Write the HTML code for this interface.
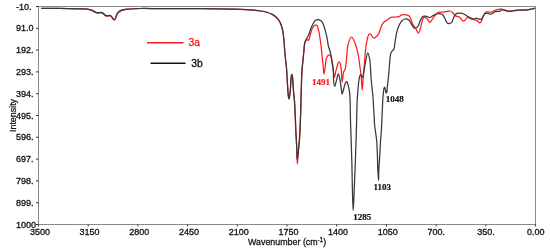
<!DOCTYPE html>
<html><head><meta charset="utf-8"><title>IR spectrum</title>
<style>
html,body{margin:0;padding:0;background:#fff;}
body{width:550px;height:250px;overflow:hidden;}
svg{display:block;}
.tl{font-family:"Liberation Sans",Arial,sans-serif;font-size:9px;fill:#141414;stroke:#141414;stroke-width:0.32px;}
.ax{font-family:"Liberation Sans",Arial,sans-serif;font-size:8.9px;fill:#141414;stroke:#141414;stroke-width:0.28px;}
.lg{font-family:"Liberation Sans",Arial,sans-serif;font-size:10.4px;stroke-width:0.3px;}
.an{font-family:"Liberation Serif","Times New Roman",serif;font-size:9px;font-weight:bold;stroke-width:0.2px;}
</style></head><body>
<svg width="550" height="250" viewBox="0 0 550 250">
<rect width="550" height="250" fill="#fff"/>
<rect x="38.50" y="6.50" width="497.00" height="218.00" fill="none" stroke="#8a8a8a" stroke-width="1"/>
<line x1="36" y1="6.50" x2="38.50" y2="6.50" stroke="#333" stroke-width="1"/>
<text x="16" y="9.50" class="tl">-10.</text>
<line x1="36" y1="28.30" x2="38.50" y2="28.30" stroke="#333" stroke-width="1"/>
<text x="16" y="31.30" class="tl">91.0</text>
<line x1="36" y1="50.10" x2="38.50" y2="50.10" stroke="#333" stroke-width="1"/>
<text x="16" y="53.10" class="tl">192.</text>
<line x1="36" y1="71.90" x2="38.50" y2="71.90" stroke="#333" stroke-width="1"/>
<text x="16" y="74.90" class="tl">293.</text>
<line x1="36" y1="93.70" x2="38.50" y2="93.70" stroke="#333" stroke-width="1"/>
<text x="16" y="96.70" class="tl">394.</text>
<line x1="36" y1="115.50" x2="38.50" y2="115.50" stroke="#333" stroke-width="1"/>
<text x="16" y="118.50" class="tl">495.</text>
<line x1="36" y1="137.30" x2="38.50" y2="137.30" stroke="#333" stroke-width="1"/>
<text x="16" y="140.30" class="tl">596.</text>
<line x1="36" y1="159.10" x2="38.50" y2="159.10" stroke="#333" stroke-width="1"/>
<text x="16" y="162.10" class="tl">697.</text>
<line x1="36" y1="180.90" x2="38.50" y2="180.90" stroke="#333" stroke-width="1"/>
<text x="16" y="183.90" class="tl">798.</text>
<line x1="36" y1="202.70" x2="38.50" y2="202.70" stroke="#333" stroke-width="1"/>
<text x="16" y="205.70" class="tl">899.</text>
<line x1="36" y1="224.50" x2="38.50" y2="224.50" stroke="#333" stroke-width="1"/>
<text x="16" y="227.50" class="tl">1000</text>
<line x1="38.50" y1="224.50" x2="38.50" y2="226.5" stroke="#333" stroke-width="1"/>
<text x="29.90" y="234.5" class="tl">3500</text>
<line x1="88.20" y1="224.50" x2="88.20" y2="226.5" stroke="#333" stroke-width="1"/>
<text x="79.60" y="234.5" class="tl">3150</text>
<line x1="137.90" y1="224.50" x2="137.90" y2="226.5" stroke="#333" stroke-width="1"/>
<text x="129.30" y="234.5" class="tl">2800</text>
<line x1="187.60" y1="224.50" x2="187.60" y2="226.5" stroke="#333" stroke-width="1"/>
<text x="179.00" y="234.5" class="tl">2450</text>
<line x1="237.30" y1="224.50" x2="237.30" y2="226.5" stroke="#333" stroke-width="1"/>
<text x="228.70" y="234.5" class="tl">2100</text>
<line x1="287.00" y1="224.50" x2="287.00" y2="226.5" stroke="#333" stroke-width="1"/>
<text x="278.40" y="234.5" class="tl">1750</text>
<line x1="336.70" y1="224.50" x2="336.70" y2="226.5" stroke="#333" stroke-width="1"/>
<text x="328.10" y="234.5" class="tl">1400</text>
<line x1="386.40" y1="224.50" x2="386.40" y2="226.5" stroke="#333" stroke-width="1"/>
<text x="377.80" y="234.5" class="tl">1050</text>
<line x1="436.10" y1="224.50" x2="436.10" y2="226.5" stroke="#333" stroke-width="1"/>
<text x="427.50" y="234.5" class="tl">700.</text>
<line x1="485.80" y1="224.50" x2="485.80" y2="226.5" stroke="#333" stroke-width="1"/>
<text x="477.20" y="234.5" class="tl">350.</text>
<line x1="535.50" y1="224.50" x2="535.50" y2="226.5" stroke="#333" stroke-width="1"/>
<text x="526.90" y="234.5" class="tl">0.00</text>
<path d="M41.30,8.30 C44.42,8.32 53.66,8.32 60.00,8.40 C66.55,8.48 74.92,8.65 80.00,8.80 C83.14,8.89 85.44,8.69 87.60,9.10 C89.29,9.42 90.47,10.03 92.00,10.65 C93.72,11.35 95.65,12.83 97.40,13.15 C98.91,13.43 100.40,12.45 101.80,12.85 C103.35,13.30 104.66,15.55 106.20,16.05 C107.57,16.50 109.21,15.50 110.50,16.05 C111.98,16.69 113.27,20.33 114.40,20.15 C115.70,19.94 116.23,14.99 117.60,13.35 C118.68,12.06 119.88,11.34 121.40,10.65 C123.23,9.82 125.45,9.46 128.00,9.10 C131.39,8.62 135.49,8.60 140.00,8.50 C145.82,8.37 152.19,8.57 160.00,8.60 C171.05,8.64 187.62,8.60 200.00,8.70 C210.72,8.78 220.56,8.84 230.00,9.10 C238.45,9.33 247.39,9.44 254.00,10.10 C258.70,10.57 262.55,11.05 266.00,12.00 C268.75,12.76 271.14,13.62 273.20,14.90 C275.08,16.07 276.71,17.62 278.00,19.20 C279.20,20.67 280.03,22.18 280.80,24.00 C281.69,26.11 282.28,28.61 282.80,31.20 C283.39,34.15 283.68,37.60 284.00,40.80 C284.32,44.00 284.43,47.20 284.70,50.40 C284.97,53.60 285.29,56.95 285.60,60.00 C285.89,62.79 286.25,65.09 286.50,68.00 C286.80,71.48 286.97,75.67 287.20,79.50 C287.43,83.33 287.62,87.71 287.90,91.00 C288.11,93.48 288.30,96.10 288.60,97.50 C288.75,98.19 288.93,99.01 289.10,99.00 C289.44,98.97 289.83,94.91 290.10,92.50 C290.43,89.51 290.54,85.48 290.80,82.40 C291.02,79.80 291.08,76.32 291.50,75.20 C291.64,74.81 291.85,74.46 292.00,74.50 C292.38,74.59 292.58,77.89 292.80,80.00 C293.09,82.83 293.13,86.67 293.40,90.00 C293.67,93.34 294.12,96.33 294.40,100.00 C294.74,104.49 294.97,110.00 295.20,115.00 C295.43,120.00 295.55,124.71 295.80,130.00 C296.08,135.96 296.52,143.02 296.80,149.00 C297.05,154.35 297.10,164.19 297.40,164.20 C297.70,164.21 298.23,153.41 298.60,149.00 C298.88,145.61 299.17,143.08 299.40,140.00 C299.64,136.76 299.82,133.67 300.00,130.00 C300.22,125.51 300.43,120.00 300.60,115.00 C300.77,110.00 300.87,105.00 301.00,100.00 C301.13,95.00 301.23,90.00 301.40,85.00 C301.57,80.00 301.71,74.22 302.00,70.00 C302.22,66.91 302.52,64.82 302.80,62.00 C303.11,58.85 303.43,55.33 303.80,52.00 C304.17,48.66 303.97,44.12 305.00,42.00 C305.61,40.74 306.85,39.50 307.50,39.50 C307.91,39.50 308.19,40.57 308.50,40.50 C309.07,40.37 309.48,37.67 310.00,36.00 C310.64,33.93 311.10,30.87 312.00,29.00 C312.69,27.56 313.59,26.12 314.50,25.50 C315.13,25.07 315.95,24.75 316.50,25.00 C317.20,25.32 317.56,26.76 318.00,28.00 C318.64,29.82 319.08,32.66 319.50,35.00 C319.91,37.33 320.18,39.59 320.50,42.00 C320.85,44.58 321.18,47.21 321.50,50.00 C321.85,53.05 322.19,56.51 322.50,59.60 C322.79,62.49 323.03,65.44 323.30,68.00 C323.53,70.17 323.71,73.99 324.00,74.00 C324.26,74.01 324.59,71.11 324.90,69.20 C325.35,66.38 325.44,61.18 326.30,58.70 C326.82,57.19 327.58,55.90 328.30,55.30 C328.74,54.93 329.29,54.65 329.70,54.80 C330.27,55.01 330.69,56.14 331.10,57.20 C331.76,58.92 332.20,61.96 332.60,64.40 C333.01,66.89 333.15,69.70 333.50,72.00 C333.80,73.93 334.15,77.30 334.50,77.30 C334.85,77.30 335.24,73.48 335.60,72.00 C335.87,70.91 336.10,70.30 336.40,69.20 C336.83,67.64 337.37,64.76 337.90,63.50 C338.19,62.81 338.43,62.05 338.80,62.00 C339.21,61.95 339.92,62.75 340.30,63.50 C340.93,64.73 340.93,66.91 341.20,69.20 C341.60,72.63 341.76,82.09 342.20,82.10 C342.59,82.11 342.86,74.28 343.60,72.00 C344.01,70.73 344.68,70.46 345.10,69.20 C345.83,67.00 346.06,63.14 346.50,59.60 C347.04,55.25 346.95,49.07 348.00,45.00 C348.81,41.86 350.16,37.09 351.40,37.00 C352.51,36.92 353.95,40.49 355.00,43.00 C356.51,46.61 357.72,52.49 358.60,57.00 C359.40,61.13 359.73,65.69 360.20,69.00 C360.53,71.34 360.83,72.54 361.10,75.00 C361.53,78.87 361.86,90.00 362.20,90.00 C362.45,90.00 362.70,84.58 362.90,82.00 C363.09,79.59 363.20,77.54 363.40,75.00 C363.65,71.96 363.94,68.90 364.30,65.00 C364.81,59.48 365.25,50.56 366.20,45.00 C366.90,40.94 367.54,35.96 368.80,34.60 C369.33,34.03 370.07,33.80 370.60,34.00 C371.32,34.27 371.71,36.28 372.40,37.00 C372.94,37.57 373.54,38.23 374.20,38.20 C375.09,38.16 376.42,36.59 377.20,35.80 C377.80,35.19 378.12,34.87 378.60,34.00 C379.55,32.27 380.51,27.77 381.60,25.60 C382.36,24.09 383.04,22.92 384.00,22.00 C384.87,21.17 385.98,20.90 387.00,20.20 C388.17,19.40 389.22,17.94 390.60,17.40 C392.01,16.85 393.92,17.14 395.40,17.00 C396.69,16.87 397.89,16.97 399.00,16.60 C400.09,16.23 400.87,15.11 402.00,14.80 C403.24,14.46 404.94,14.56 406.20,14.80 C407.31,15.01 408.42,15.28 409.20,16.00 C410.07,16.80 410.43,18.30 411.00,19.60 C411.64,21.07 411.99,22.87 412.80,24.40 C413.64,26.00 415.04,27.48 416.00,29.00 C416.89,30.41 417.69,33.24 418.40,33.20 C419.09,33.16 419.66,30.61 420.20,29.00 C420.89,26.95 421.31,23.85 422.00,21.80 C422.54,20.19 422.98,18.14 423.80,17.60 C424.31,17.26 425.01,17.35 425.60,17.60 C426.41,17.94 427.28,19.17 428.00,20.00 C428.67,20.78 429.15,22.39 429.80,22.40 C430.54,22.41 431.37,20.50 432.20,19.40 C433.16,18.13 434.07,16.42 435.20,15.20 C436.28,14.04 437.51,12.67 438.80,12.20 C439.93,11.79 441.20,12.30 442.40,12.20 C443.60,12.10 444.78,11.80 446.00,11.60 C447.25,11.40 448.70,10.83 449.80,11.00 C450.72,11.14 451.46,11.60 452.20,12.20 C453.09,12.92 453.71,14.48 454.60,15.20 C455.34,15.80 456.18,16.10 457.00,16.40 C457.78,16.69 458.67,16.53 459.40,17.00 C460.31,17.58 461.00,19.27 461.80,20.00 C462.40,20.55 462.96,21.22 463.60,21.20 C464.35,21.18 465.30,20.10 466.00,19.40 C466.70,18.70 467.05,17.27 467.80,17.00 C468.48,16.76 469.34,17.28 470.20,17.60 C471.30,18.01 472.64,18.88 473.80,19.40 C474.84,19.87 475.84,20.04 476.80,20.60 C477.85,21.21 478.97,23.11 479.80,23.00 C480.53,22.91 481.06,21.58 481.60,20.60 C482.30,19.31 482.64,17.26 483.40,15.80 C484.12,14.41 484.93,12.57 486.00,12.00 C486.87,11.54 488.00,12.00 489.00,12.00 C490.00,12.00 491.04,12.27 492.00,12.00 C493.04,11.71 493.97,10.64 495.00,10.20 C495.97,9.79 496.95,9.60 498.00,9.40 C499.14,9.19 500.41,8.87 501.60,9.00 C502.81,9.13 503.99,9.87 505.20,10.20 C506.39,10.53 507.59,10.90 508.80,11.00 C509.99,11.10 511.20,10.93 512.40,10.80 C513.60,10.67 514.76,10.33 516.00,10.20 C517.29,10.06 518.48,10.05 520.00,10.00 C522.01,9.94 524.87,10.11 527.00,9.90 C528.81,9.72 530.55,9.30 532.00,9.00 C533.13,8.77 534.50,8.42 535.00,8.30" fill="none" stroke="#ff1a1a" stroke-width="1.25" stroke-linejoin="round"/>
<path d="M41.30,8.30 C44.42,8.32 53.66,8.32 60.00,8.40 C66.55,8.48 74.92,8.65 80.00,8.80 C83.14,8.89 85.42,8.79 87.60,9.10 C89.28,9.34 90.48,9.67 92.00,10.20 C93.74,10.81 95.65,12.38 97.40,12.70 C98.91,12.98 100.40,12.00 101.80,12.40 C103.35,12.85 104.66,15.10 106.20,15.60 C107.57,16.05 109.21,15.05 110.50,15.60 C111.98,16.24 113.27,19.88 114.40,19.70 C115.70,19.49 116.23,14.54 117.60,12.90 C118.68,11.61 119.87,10.83 121.40,10.20 C123.23,9.45 125.46,9.37 128.00,9.10 C131.40,8.73 135.49,8.60 140.00,8.50 C145.82,8.37 152.19,8.57 160.00,8.60 C171.05,8.64 187.62,8.60 200.00,8.70 C210.72,8.78 220.56,8.84 230.00,9.10 C238.45,9.33 247.39,9.44 254.00,10.10 C258.70,10.57 262.55,11.05 266.00,12.00 C268.75,12.76 271.14,13.62 273.20,14.90 C275.08,16.07 276.71,17.62 278.00,19.20 C279.20,20.67 280.03,22.18 280.80,24.00 C281.69,26.11 282.28,28.61 282.80,31.20 C283.39,34.15 283.68,37.60 284.00,40.80 C284.32,44.00 284.43,47.20 284.70,50.40 C284.97,53.60 285.29,56.95 285.60,60.00 C285.89,62.79 286.25,65.09 286.50,68.00 C286.80,71.48 286.97,75.67 287.20,79.50 C287.43,83.33 287.62,87.71 287.90,91.00 C288.11,93.48 288.30,96.10 288.60,97.50 C288.75,98.19 288.93,99.01 289.10,99.00 C289.44,98.97 289.83,94.91 290.10,92.50 C290.43,89.51 290.54,85.48 290.80,82.40 C291.02,79.80 291.08,76.32 291.50,75.20 C291.64,74.81 291.85,74.46 292.00,74.50 C292.38,74.59 292.58,77.89 292.80,80.00 C293.09,82.83 293.13,86.67 293.40,90.00 C293.67,93.34 294.12,96.33 294.40,100.00 C294.74,104.49 294.97,110.00 295.20,115.00 C295.43,120.00 295.55,124.71 295.80,130.00 C296.08,135.96 296.55,143.61 296.80,149.00 C296.98,152.98 296.90,159.39 297.20,159.40 C297.50,159.41 298.23,152.35 298.60,149.00 C298.95,145.90 299.17,143.08 299.40,140.00 C299.64,136.76 299.82,133.67 300.00,130.00 C300.22,125.51 300.43,120.00 300.60,115.00 C300.77,110.00 300.87,105.00 301.00,100.00 C301.13,95.00 301.23,90.00 301.40,85.00 C301.57,80.00 301.71,74.22 302.00,70.00 C302.22,66.91 302.52,64.82 302.80,62.00 C303.11,58.85 303.43,55.33 303.80,52.00 C304.17,48.66 304.24,44.53 305.00,42.00 C305.51,40.31 306.33,39.33 307.00,38.00 C307.67,36.67 308.38,35.49 309.00,34.00 C309.74,32.23 310.32,29.64 311.00,28.00 C311.49,26.81 311.91,26.07 312.50,25.00 C313.21,23.71 313.95,21.70 315.00,20.80 C315.86,20.07 317.00,19.60 318.00,19.60 C319.00,19.60 320.14,20.10 321.00,20.80 C321.99,21.60 322.74,22.99 323.40,24.40 C324.20,26.10 324.62,28.30 325.20,30.40 C325.83,32.68 326.46,35.03 327.00,37.60 C327.61,40.51 328.00,44.76 328.60,47.00 C328.95,48.30 329.34,48.82 329.70,50.00 C330.19,51.61 330.71,53.79 331.10,55.80 C331.52,57.94 331.77,60.27 332.10,62.50 C332.43,64.73 332.86,67.15 333.10,69.20 C333.30,70.93 333.43,72.33 333.50,74.00 C333.58,75.82 333.33,77.73 333.50,79.70 C333.69,81.85 334.19,86.37 334.70,86.40 C335.17,86.43 335.83,82.69 336.40,80.70 C337.03,78.54 337.69,73.91 338.30,73.90 C338.82,73.89 339.37,76.81 339.80,78.70 C340.40,81.33 340.76,85.50 341.20,88.30 C341.55,90.48 341.78,94.08 342.20,94.10 C342.59,94.12 343.09,91.03 343.60,89.30 C344.20,87.25 344.81,83.80 345.60,82.60 C345.97,82.03 346.44,81.50 346.80,81.60 C347.45,81.79 347.96,84.79 348.40,86.40 C348.83,87.99 349.15,89.59 349.40,91.20 C349.65,92.79 349.75,93.73 349.90,96.00 C350.25,101.46 350.31,114.08 350.60,124.00 C350.93,135.25 351.49,148.55 351.80,160.00 C352.08,170.45 352.13,180.94 352.40,190.00 C352.62,197.51 352.90,210.60 353.20,210.60 C353.50,210.60 353.87,197.51 354.20,190.00 C354.60,180.94 355.03,170.00 355.40,160.00 C355.77,150.00 356.10,140.00 356.40,130.00 C356.70,120.00 356.81,107.32 357.20,100.00 C357.43,95.77 357.70,93.33 358.00,90.00 C358.30,86.67 358.48,82.82 359.00,80.00 C359.39,77.88 359.81,74.61 360.50,74.50 C361.05,74.41 361.96,77.60 362.50,77.50 C363.23,77.37 363.58,73.13 364.00,71.00 C364.40,68.97 364.54,67.34 365.00,65.00 C365.67,61.64 366.91,52.82 367.80,52.80 C368.49,52.78 369.29,57.06 369.80,60.00 C370.57,64.44 370.64,72.39 371.00,77.00 C371.25,80.16 371.42,82.19 371.70,85.00 C372.01,88.15 372.47,91.13 372.80,95.00 C373.26,100.32 373.68,108.53 374.00,114.00 C374.25,118.16 374.23,121.06 374.60,125.00 C375.03,129.62 376.13,134.99 376.60,140.00 C377.07,144.99 377.20,150.00 377.40,155.00 C377.60,160.00 377.56,165.46 377.80,170.00 C378.00,173.79 378.43,180.40 378.60,180.40 C378.77,180.40 378.64,173.78 378.80,170.00 C379.00,165.45 379.50,160.00 379.80,155.00 C380.10,150.00 380.30,144.49 380.60,140.00 C380.84,136.33 381.13,134.28 381.40,130.00 C381.88,122.35 382.53,103.00 382.90,98.00 C383.01,96.47 383.08,96.18 383.20,95.00 C383.38,93.28 383.52,90.06 383.90,88.70 C384.09,88.01 384.38,87.18 384.60,87.20 C384.89,87.22 385.15,89.05 385.40,90.00 C385.65,90.98 385.75,92.90 386.10,93.00 C386.30,93.06 386.62,92.68 386.80,92.30 C387.17,91.51 387.03,89.68 387.20,88.00 C387.45,85.60 387.90,82.20 388.20,79.30 C388.50,76.40 388.75,73.49 389.00,70.60 C389.25,67.73 389.48,64.53 389.70,62.00 C389.87,59.99 389.90,58.34 390.20,56.60 C390.48,54.94 390.69,53.05 391.40,51.80 C391.99,50.76 393.21,50.54 393.80,49.40 C394.66,47.73 394.60,44.60 395.00,42.20 C395.40,39.80 395.90,36.71 396.20,35.00 C396.36,34.05 396.36,33.73 396.60,32.80 C397.04,31.08 398.01,27.71 399.00,25.60 C399.86,23.78 400.85,21.93 402.00,20.80 C402.91,19.91 403.96,19.21 405.00,19.00 C405.97,18.80 407.12,18.95 408.00,19.40 C408.95,19.89 409.71,21.01 410.40,22.00 C411.13,23.06 411.55,24.55 412.20,25.60 C412.76,26.51 413.23,27.65 414.00,28.00 C414.72,28.33 415.88,28.19 416.60,27.80 C417.37,27.38 417.82,26.43 418.40,25.40 C419.25,23.89 419.87,21.00 420.80,19.40 C421.52,18.16 422.18,16.89 423.20,16.40 C424.19,15.92 425.67,16.18 426.80,16.40 C427.87,16.61 428.82,17.68 429.80,17.60 C430.82,17.52 431.74,16.38 432.80,15.80 C433.93,15.18 435.17,14.36 436.40,14.00 C437.57,13.65 438.94,13.45 440.00,13.60 C440.90,13.73 441.68,14.01 442.40,14.60 C443.33,15.37 444.04,16.89 444.80,18.20 C445.65,19.66 446.23,22.19 447.20,23.00 C447.80,23.51 448.52,23.66 449.20,23.60 C449.98,23.53 450.95,23.09 451.60,22.40 C452.45,21.50 452.78,19.54 453.40,18.20 C453.98,16.94 454.47,15.42 455.20,14.60 C455.73,14.00 456.26,13.65 457.00,13.40 C457.96,13.08 459.46,13.08 460.60,13.20 C461.65,13.31 462.63,13.59 463.60,14.00 C464.63,14.44 465.67,15.18 466.60,15.80 C467.46,16.38 468.18,17.09 469.00,17.60 C469.78,18.08 470.58,18.53 471.40,18.80 C472.18,19.05 473.01,19.29 473.80,19.20 C474.61,19.11 475.39,18.26 476.20,18.20 C476.99,18.14 477.80,18.60 478.60,18.80 C479.40,19.00 480.32,19.64 481.00,19.40 C481.75,19.13 482.20,17.87 482.80,17.00 C483.47,16.02 483.96,14.41 484.80,13.80 C485.48,13.30 486.36,13.17 487.20,13.20 C488.15,13.24 489.32,14.15 490.20,14.20 C490.87,14.23 491.39,14.08 492.00,13.80 C492.78,13.44 493.51,12.40 494.40,12.00 C495.30,11.60 496.45,11.49 497.40,11.40 C498.24,11.32 499.10,11.67 499.80,11.40 C500.50,11.13 500.83,10.00 501.60,9.80 C502.55,9.55 503.91,10.35 505.20,10.60 C506.68,10.89 508.40,11.40 510.00,11.40 C511.60,11.40 513.16,10.81 514.80,10.60 C516.49,10.38 518.14,10.22 520.00,10.10 C522.16,9.97 524.87,10.12 527.00,9.90 C528.81,9.71 530.55,9.30 532.00,9.00 C533.13,8.77 534.50,8.42 535.00,8.30" fill="none" stroke="#383838" stroke-width="1.25" stroke-linejoin="round"/>
<text class="ax" transform="translate(16,132) rotate(-90)">Intensity</text>
<text class="ax" x="248" y="244.5">Wavenumber (cm<tspan dy="-3" font-size="5.5">-</tspan><tspan font-size="6.5">1</tspan><tspan dy="3">)</tspan></text>
<line x1="147" y1="42.8" x2="183.5" y2="42.8" stroke="#ff1a1a" stroke-width="1.5"/>
<text class="lg" x="188.5" y="46.2" fill="#ff1a1a" stroke="#ff1a1a">3a</text>
<line x1="150.5" y1="63.3" x2="185.5" y2="63.3" stroke="#111" stroke-width="1.5"/>
<text class="lg" x="191.3" y="67" fill="#111" stroke="#111">3b</text>
<text class="an" x="312" y="84.5" fill="#ff1a1a" stroke="#ff1a1a">1491</text>
<text class="an" x="385.7" y="102.3" fill="#111" stroke="#111">1048</text>
<text class="an" x="373.5" y="190" fill="#111" stroke="#111">1103</text>
<text class="an" x="353.3" y="219.8" fill="#111" stroke="#111">1285</text>
</svg>
</body></html>
